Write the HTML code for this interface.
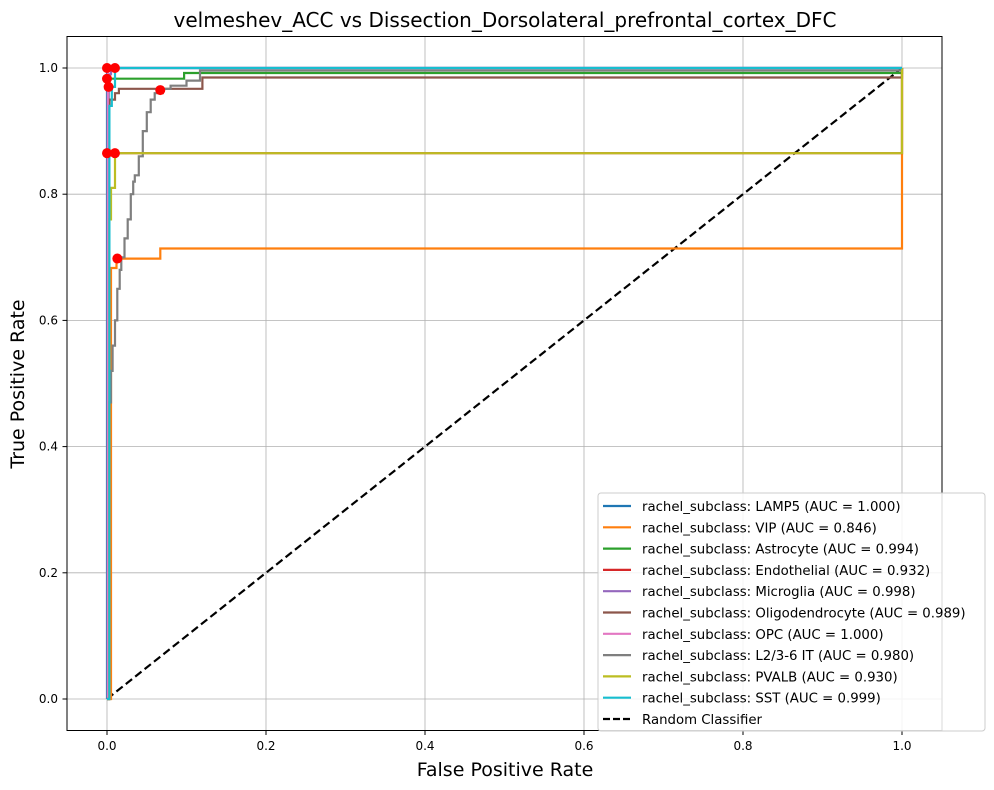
<!DOCTYPE html>
<html><head><meta charset="utf-8"><style>
body{margin:0;background:#fff;font-family:"Liberation Sans","DejaVu Sans",sans-serif}
svg{display:block}
</style></head><body>
<svg id="chart" width="994" height="790" xmlns="http://www.w3.org/2000/svg" font-family="DejaVu Sans, Liberation Sans, sans-serif">
<rect width="994" height="790" fill="#fff"/>
<text x="505" y="27" font-size="20" text-anchor="middle">velmeshev_ACC vs Dissection_Dorsolateral_prefrontal_cortex_DFC</text>
<text x="505" y="776" font-size="19" text-anchor="middle">False Positive Rate</text>
<text x="24" y="384" font-size="19" text-anchor="middle" transform="rotate(-90 24 384)">True Positive Rate</text>
<g id="grid"></g><g id="series"></g><g id="dots"></g>
<rect x="67" y="36.5" width="875" height="694" fill="none" stroke="#000" stroke-width="1"/>
<g id="ticks"></g><g id="legend"></g>
</svg>
<script>
const xTicks=[0,0.2,0.4,0.6,0.8,1.0];
const yTicks=[0,0.2,0.4,0.6,0.8,1.0];
const names=["LAMP5","VIP","Astrocyte","Endothelial","Microglia","Oligodendrocyte","OPC","L2/3-6 IT","PVALB","SST"];
const aucs=["1.000","0.846","0.994","0.932","0.998","0.989","1.000","0.980","0.930","0.999"];
const colors=["#1f77b4","#ff7f0e","#2ca02c","#d62728","#9467bd","#8c564b","#e377c2","#7f7f7f","#bcbd22","#17becf"];
const fprLAMP5=[0,0,1];const tprLAMP5=[0,1,1];
const fprVIP=[0,0.005,0.005,0.012,0.012,0.067,0.067,1,1];const tprVIP=[0,0,0.683,0.683,0.698,0.698,0.714,0.714,1];
const fprAstro=[0,0.002,0.002,0.097,0.097,1,1];const tprAstro=[0,0,0.983,0.983,0.992,0.992,1];
const fprEndo=[0,0.003,0.003,1,1];const tprEndo=[0,0,0.865,0.865,1];
const fprMicro=[0,0.002,0.002,0.005,0.005,1];const tprMicro=[0,0,0.99,0.99,1,1];
const fprOligo=[0,0.003,0.003,0.01,0.01,0.015,0.015,0.12,0.12,1,1];const tprOligo=[0,0,0.95,0.95,0.96,0.96,0.967,0.967,0.985,0.985,1];
const fprOPC=[0,0.001,0.001,1];const tprOPC=[0,0,1,1];
// L2/3-6 IT ROC points (drawn as steps)
const fprIT=[0,0.003,0.005,0.007,0.01,0.013,0.016,0.018,0.022,0.026,0.03,0.033,0.035,0.04,0.045,0.05,0.055,0.06,0.07,0.08,0.1,0.117,1];
const tprIT=[0,0.47,0.52,0.56,0.6,0.65,0.68,0.7,0.73,0.76,0.8,0.82,0.83,0.86,0.9,0.93,0.95,0.96,0.967,0.972,0.98,0.996,0.996];
const fprPV=[0,0.003,0.003,0.005,0.005,0.01,0.01,1,1];const tprPV=[0,0,0.76,0.76,0.81,0.81,0.865,0.865,1];
const fprSST=[0,0.003,0.003,0.006,0.006,0.01,0.01,1];const tprSST=[0,0,0.94,0.94,0.97,0.97,1,1];
const fprs=[fprLAMP5,fprVIP,fprAstro,fprEndo,fprMicro,fprOligo,fprOPC,fprIT,fprPV,fprSST];
const tprs=[tprLAMP5,tprVIP,tprAstro,tprEndo,tprMicro,tprOligo,tprOPC,tprIT,tprPV,tprSST];
const dotX=[0,0.01,0,0,0.01,0.013,0.067,0.002];
const dotY=[1,1,0.983,0.865,0.865,0.698,0.965,0.97];
const NS="http://www.w3.org/2000/svg";
const X=v=>107+795*v, Y=v=>699-631*v;
function mk(t,a,p){const e=document.createElementNS(NS,t);for(const k in a)e.setAttribute(k,a[k]);p.appendChild(e);return e;}
const grid=document.getElementById('grid'),ticks=document.getElementById('ticks');
xTicks.forEach(v=>{
 const l=mk('line',{x1:X(v),x2:X(v),y1:36.5,y2:730.5,stroke:'#b0b0b0','stroke-width':0.8},grid);
 
 
 const tk=mk('line',{x1:X(v),x2:X(v),y1:730.5,y2:735,stroke:'#000'},ticks);
 
 
 const t=mk('text',{x:X(v),y:750,'font-size':12,'text-anchor':'middle'},ticks);t.textContent=v.toFixed(1);
 
 
});
yTicks.forEach(v=>{
 const l=mk('line',{x1:67,x2:942,y1:Y(v),y2:Y(v),stroke:'#b0b0b0','stroke-width':0.8},grid);
 
 
 const tk=mk('line',{x1:62.5,x2:67,y1:Y(v),y2:Y(v),stroke:'#000'},ticks);
 
 
 const t=mk('text',{x:58,y:Y(v)+4,'font-size':12,'text-anchor':'end'},ticks);t.textContent=v.toFixed(1);
 
 
});
const ser=document.getElementById('series');
const diag=mk('line',{x1:X(0),y1:Y(0),x2:X(1),y2:Y(1),stroke:'#000','stroke-width':2.2,'stroke-dasharray':'8,4'},ser);


fprs.forEach((f,i)=>{
 let d='';
 f.forEach((x,j)=>{
  if(j===0){d+='M'+X(x).toFixed(1)+','+Y(tprs[i][j]).toFixed(1);return;}
  if(i===7){d+='L'+X(x).toFixed(1)+','+Y(tprs[i][j-1]).toFixed(1);}
  d+='L'+X(x).toFixed(1)+','+Y(tprs[i][j]).toFixed(1);
 });
 const p=mk('path',{d:d,fill:'none',stroke:colors[i],'stroke-width':2.2},ser);
 
 
});
const dots=document.getElementById('dots');
dotX.forEach((x,i)=>{
 const c=mk('circle',{cx:X(x),cy:Y(dotY[i]),r:5,fill:'#ff0000'},dots);
 
 
});
const lg=document.getElementById('legend');
const box=mk('rect',{x:598,y:493,width:387,height:238,rx:3,fill:'#fff','fill-opacity':0.85,stroke:'#ccc'},lg);


const labels=names.map((n,i)=>'rachel_subclass: '+n+' (AUC = '+aucs[i]+')').concat(['Random Classifier']);
labels.forEach((s,i)=>{
 const y=506+i*21.3;
 const col=i<10?colors[i]:'#000';
 const l=mk('line',{x1:603,x2:631,y1:y,y2:y,stroke:col,'stroke-width':2.2},lg);
 if(i==10)l.setAttribute('stroke-dasharray','7,3');
 
 
 const t=mk('text',{x:642,y:y+5,'font-size':13.3},lg);t.textContent=s;
 
 
});
</script>
</body></html>
